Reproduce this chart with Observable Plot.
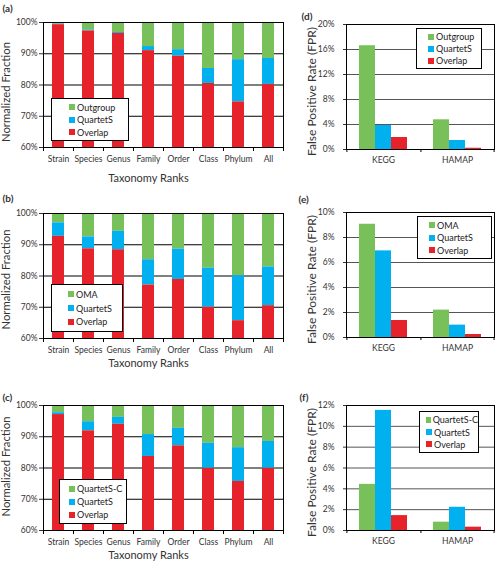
<!DOCTYPE html>
<html><head><meta charset="utf-8">
<script src="https://cdn.jsdelivr.net/npm/d3@7"></script>
<script src="https://cdn.jsdelivr.net/npm/@observablehq/plot@0.6"></script>
<style>
body{margin:0;background:#fff;font-family:Lato,sans-serif}
#root{position:relative;width:496px;height:561px;overflow:hidden}
.panel{position:absolute}
.legend{position:absolute;background:#fff;border:1.5px solid #000;box-sizing:border-box;font-size:9px;color:#222;display:flex;flex-direction:column;justify-content:space-evenly}
.legend .item{white-space:nowrap;line-height:9px;display:flex;align-items:center}
.legend .sw{display:inline-block;width:6px;height:6px;margin-right:2px}
</style></head><body><div id="root"></div>
<script>
// ---- categories ----
const ranks = ["Strain","Species","Genus","Family","Order","Class","Phylum","All"];
const dbs = ["KEGG","HAMAP"];
const leftTicks = [60,70,80,90,100];
const leftGrid = [70,80,90];

// ---- colours ----
const GREEN = "#77c05a", BLUE = "#00b0ef", RED = "#e6222a";

// ---- panel (a) ----
const aSeries = ["Outgroup","QuartetS","Overlap"];
const aOutgroup = [0.5, 2.4, 3.2, 7.7, 8.7, 14.7, 11.9, 11.5];
const aQuartetS = [0.2, 0.3, 0.3, 1.3, 2.1, 4.8, 13.5, 8.3];
const aOverlap  = [99.3, 97.3, 96.5, 91.0, 89.2, 80.5, 74.6, 80.2];

// ---- panel (b) ----
const bSeries = ["OMA","QuartetS","Overlap"];
const bOMA      = [3.0, 7.5, 5.7, 14.8, 11.4, 17.5, 19.9, 17.1];
const bQuartetS = [4.3, 3.8, 5.9, 8.1, 9.7, 12.5, 14.4, 12.4];
const bOverlap  = [92.7, 88.7, 88.4, 77.1, 78.9, 70.0, 65.7, 70.5];

// ---- panel (c) ----
const cSeries = ["QuartetS-C","QuartetS","Overlap"];
const cQuartetSC = [2.3, 5.2, 3.8, 9.3, 7.3, 12.1, 13.5, 11.5];
const cQuartetS  = [0.6, 2.9, 2.2, 7.0, 5.6, 8.0, 10.8, 8.6];
const cOverlap   = [97.1, 91.9, 94.0, 83.7, 87.1, 79.9, 75.7, 79.9];

// ---- panel (d) ----  values per db [KEGG, HAMAP]
const dSeries = ["Outgroup","QuartetS","Overlap"];
const dOutgroup = [16.6, 4.75];
const dQuartetS = [3.84, 1.44];
const dOverlap  = [1.92, 0.2];
const dTicks = [0,4,8,12,16,20];

// ---- panel (e) ----
const eSeries = ["OMA","QuartetS","Overlap"];
const eOMA      = [9.06, 2.19];
const eQuartetS = [6.93, 0.99];
const eOverlap  = [1.36, 0.24];
const eTicks = [0,2,4,6,8,10];

// ---- panel (f) ----
const fSeries = ["QuartetS-C","QuartetS","Overlap"];
const fQuartetSC = [4.43, 0.80];
const fQuartetS  = [11.53, 2.23];
const fOverlap   = [1.43, 0.32];
const fTicks = [0,2,4,6,8,10,12];

const root = document.getElementById("root");
const colors = [GREEN, BLUE, RED];

function place(el, left, top) {
  const d = document.createElement("div");
  d.className = "panel";
  d.style.left = left + "px"; d.style.top = top + "px";
  d.appendChild(el);
  root.appendChild(d);
}

function legend(series, box) {
  const L = document.createElement("div");
  L.className = "legend";
  Object.assign(L.style, {left: box.left+"px", top: box.top+"px", width: box.w+"px", height: box.h+"px", paddingLeft: box.pl+"px"});
  series.forEach((s, k) => {
    const it = document.createElement("div"); it.className = "item";
    const sw = document.createElement("span"); sw.className = "sw"; sw.style.background = colors[k];
    it.appendChild(sw); it.appendChild(document.createTextNode(s));
    L.appendChild(it);
  });
  root.appendChild(L);
}

function stackedPanel(o) {
  const data = o.series.flatMap((s, k) => o.values[k].map((v, i) => ({rank: ranks[i], series: s, value: v})));
  const W = 290, H = 185, ML = 43, MR = 7, MT = 22, MB = 38;
  const step = (W - ML - MR) / ranks.length;
  const svg = Plot.plot({
    width: W, height: H, marginLeft: ML, marginRight: MR, marginTop: MT, marginBottom: MB,
    style: {fontFamily: "Lato, sans-serif", fontSize: "8.5px", color: "#333", background: "transparent", overflow: "visible"},
    x: {domain: ranks, paddingInner: 0.6, paddingOuter: 0.3, tickSize: 0, tickPadding: 8, label: null},
    y: {domain: [60, 100], ticks: leftTicks, tickFormat: d => d + "%", tickSize: 4, tickPadding: 2, label: null},
    color: {domain: o.series, range: colors},
    marks: [
      Plot.ruleY(leftGrid, {stroke: "#000"}),
      Plot.barY(data, Plot.stackY({x: "rank", y: "value", fill: "series", order: o.series.slice().reverse(), clip: true})),
      Plot.frame({stroke: "#000"}),
      Plot.ruleX(ranks, {dx: -step/2, y1: 60, y2: 60, insetBottom: -4, stroke: "#000"}),
      Plot.ruleX([ranks[ranks.length-1]], {dx: step/2, y1: 60, y2: 60, insetBottom: -4, stroke: "#000"}),
      Plot.text(["Taxonomy Ranks"], {frameAnchor: "bottom", textAnchor: "middle", lineAnchor: "middle", dy: o.xLabelDy, dx: -15, fontSize: 11}),
      Plot.text(["Normalized Fraction"], {frameAnchor: "left", textAnchor: "middle", lineAnchor: "middle", rotate: -90, dx: -37, dy: o.yLabelDy, fontSize: 11.3}),
      Plot.text([o.letter], {frameAnchor: "top-left", textAnchor: "start", lineAnchor: "middle", dx: -41, dy: o.letterDy, fontWeight: "bold", fontSize: 10})
    ]
  });
  place(svg, 0, o.top);
}

function groupedPanel(o) {
  const data = o.series.flatMap((s, k) => dbs.map((db, j) => ({db, series: s, value: o.values[k][j]})));
  const W = 206, H = 185, ML = 55, MR = 2, MT = 24, MB = 36;
  const facetW = (W - ML - MR) / dbs.length;
  const po = 0.735;
  const step = facetW / (o.series.length + 2*po);
  const edge = step*po + step/2;
  const yMax = o.ticks[o.ticks.length-1];
  const svg = Plot.plot({
    width: W, height: H, marginLeft: ML, marginRight: MR, marginTop: MT, marginBottom: MB,
    style: {fontFamily: "Lato, sans-serif", fontSize: "8.5px", color: "#333", background: "transparent", overflow: "visible"},
    fx: {domain: dbs, padding: 0, axis: "bottom", tickSize: 0, tickPadding: 7, label: null},
    x: {domain: o.series, paddingInner: 0, paddingOuter: po, axis: null},
    y: {domain: [0, yMax], ticks: o.ticks, tickFormat: d => d + "%", tickSize: 3, tickPadding: 9, label: null},
    color: {domain: o.series, range: colors},
    marks: [
      Plot.ruleY(o.ticks.slice(1, -1), {stroke: "#555"}),
      Plot.barY(data, {fx: "db", x: "series", y: "value", fill: "series"}),
      Plot.frame({anchor: "top", stroke: "#000"}),
      Plot.frame({anchor: "bottom", stroke: "#000"}),
      Plot.frame({anchor: "left", stroke: "#000", facetAnchor: "left"}),
      Plot.frame({anchor: "right", stroke: "#000", facetAnchor: "right"}),
      Plot.ruleX([o.series[0]], {dx: -edge, y1: 0, y2: 0, insetBottom: -3, stroke: "#000"}),
      Plot.ruleX([o.series[o.series.length-1]], {dx: edge, y1: 0, y2: 0, insetBottom: -3, stroke: "#000", facetAnchor: "right"}),
      Plot.text(["False Positive Rate (FPR)"], {frameAnchor: "left", textAnchor: "middle", lineAnchor: "middle", rotate: -90, dx: -34, dy: 4.5, fontSize: 12, facetAnchor: "left"}),
      Plot.text([o.letter], {frameAnchor: "top-left", textAnchor: "start", lineAnchor: "middle", dx: o.letterDx, dy: o.letterDy, fontWeight: "bold", fontSize: 10, facetAnchor: "left"})
    ]
  });
  place(svg, 290, o.top);
}

stackedPanel({top: 0, series: aSeries, values: [aOutgroup, aQuartetS, aOverlap], letter: "(a)", letterDy: -13.5, xLabelDy: 31, yLabelDy: 7});
stackedPanel({top: 191, series: bSeries, values: [bOMA, bQuartetS, bOverlap], letter: "(b)", letterDy: -15, xLabelDy: 25, yLabelDy: 3.5});
stackedPanel({top: 383, series: cSeries, values: [cQuartetSC, cQuartetS, cOverlap], letter: "(c)", letterDy: -8, xLabelDy: 25, yLabelDy: -1.5});

groupedPanel({top: 0, series: dSeries, values: [dOutgroup, dQuartetS, dOverlap], ticks: dTicks, letter: "(d)", letterDx: -45, letterDy: -7.5});
groupedPanel({top: 188, series: eSeries, values: [eOMA, eQuartetS, eOverlap], ticks: eTicks, letter: "(e)", letterDx: -48, letterDy: -13});
groupedPanel({top: 381, series: fSeries, values: [fQuartetSC, fQuartetS, fOverlap], ticks: fTicks, letter: "(f)", letterDx: -47, letterDy: -8});

legend(aSeries, {left: 51, top: 98, w: 78, h: 43, pl: 17});
legend(bSeries, {left: 51, top: 284, w: 72, h: 48, pl: 16});
legend(cSeries, {left: 59, top: 479, w: 68, h: 45, pl: 9});
legend(dSeries, {left: 416, top: 28, w: 66, h: 41, pl: 11});
legend(eSeries, {left: 417, top: 216, w: 75, h: 43, pl: 11});
legend(fSeries, {left: 419, top: 411, w: 60, h: 42, pl: 6});
</script></body></html>
